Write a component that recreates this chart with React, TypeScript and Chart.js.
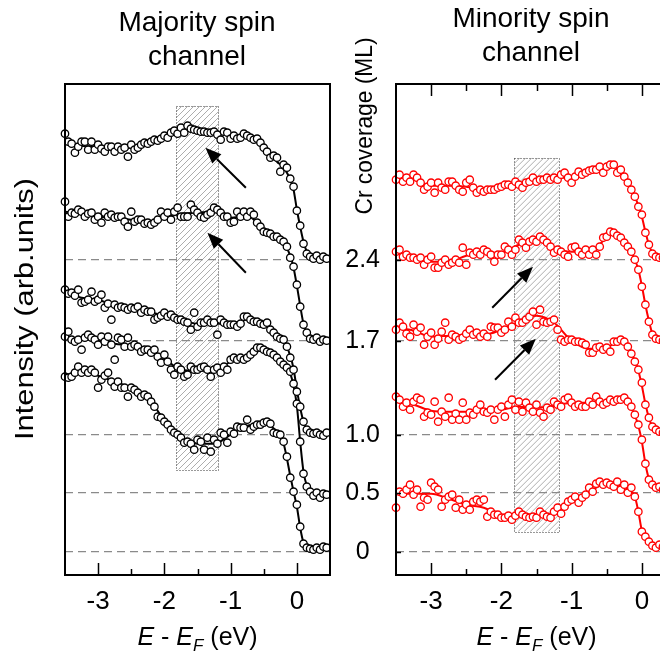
import React, { useEffect, useRef } from 'react';
import { Chart, registerables } from 'chart.js';
Chart.register(...registerables);

const FONT = '"Liberation Sans", Arial, Helvetica, sans-serif';

// energy grid of the measured points (eV, relative to E_F)
const energy = [
  -3.5, -3.45, -3.4, -3.35, -3.3, -3.25, -3.2, -3.15, -3.1, -3.05,
  -3, -2.95, -2.9, -2.85, -2.8, -2.75, -2.7, -2.65, -2.6, -2.55,
  -2.5, -2.45, -2.4, -2.35, -2.3, -2.25, -2.2, -2.15, -2.1, -2.05,
  -2, -1.95, -1.9, -1.85, -1.8, -1.75, -1.7, -1.65, -1.6, -1.55,
  -1.5, -1.45, -1.4, -1.35, -1.3, -1.25, -1.2, -1.15, -1.1, -1.05,
  -1, -0.95, -0.9, -0.85, -0.8, -0.75, -0.7, -0.65, -0.6, -0.55,
  -0.5, -0.45, -0.4, -0.35, -0.3, -0.25, -0.2, -0.15, -0.1, -0.05,
  0, 0.05, 0.1, 0.15, 0.2, 0.25, 0.3, 0.35, 0.4, 0.45,
];
// energy grid of the smooth guide lines
const fitEnergy = [-3.5, -3.25, -3, -2.75, -2.5, -2.25, -2, -1.75, -1.5, -1.25, -1, -0.75, -0.5, -0.4, -0.3, -0.2, -0.1, -0.05, 0, 0.05, 0.1, 0.15, 0.2, 0.3, 0.45];

const coverageLabels = ['0', '0.5', '1.0', '1.7', '2.4'];
const baselines = [0, 59, 117, 211, 292];
const xTicks = [-3, -2, -1, 0];
const xMinorTicks = [-2.5, -1.5, -0.5];
const yRange = [-23.3, 467.7];

// Majority spin channel (intensity, arb. units)
const maj24 = [
  418, 410, 408, 399, 405, 410, 410, 402, 410, 402,
  407, 403, 400, 405, 405, 400, 405, 402, 404, 395,
  407, 402, 404, 407, 409, 408, 410, 412, 411, 413,
  416, 414, 419, 421, 418, 424, 419, 426, 423, 422,
  421, 420, 420, 419, 419, 420, 417, 412, 420, 419,
  413, 416, 413, 414, 418, 416, 414, 412, 413, 409,
  404, 400, 394, 396, 394, 380, 387, 384, 373, 365,
  341, 326, 308, 298, 295, 293, 296, 292, 295, 293,
];
const maj17 = [
  350, 335, 339, 338, 342, 340, 335, 338, 339, 332,
  335, 329, 339, 335, 337, 334, 335, 335, 330, 325,
  340, 330, 332, 332, 328, 329, 327, 329, 332, 340,
  335, 339, 332, 340, 344, 335, 335, 335, 347, 342,
  339, 335, 334, 337, 339, 344, 342, 339, 335, 335,
  329, 330, 340, 335, 340, 335, 340, 337, 329, 325,
  320, 319, 318, 315, 315, 312, 310, 305, 294, 285,
  267, 245, 227, 219, 213, 212, 214, 210, 212, 211,
];
const maj10 = [
  262, 258, 259, 256, 262, 249, 250, 252, 260, 250,
  252, 257, 244, 248, 232, 247, 244, 245, 244, 242,
  244, 243, 245, 239, 242, 240, 240, 232, 234, 236,
  239, 235, 237, 234, 232, 232, 230, 229, 222, 239,
  225, 229, 229, 232, 229, 229, 217, 232, 229, 227,
  227, 227, 225, 228, 235, 235, 232, 230, 230, 228,
  227, 229, 222, 219, 215, 213, 212, 205, 194, 182,
  160, 145, 130, 122, 119, 118, 119, 117, 116, 119,
];
const maj05 = [
  215, 220, 212, 210, 212, 202, 214, 217, 214, 212,
  207, 215, 210, 215, 207, 192, 214, 212, 205, 214,
  205, 207, 205, 200, 202, 202, 199, 202, 195, 189,
  197, 190, 182, 177, 185, 182, 175, 177, 185, 182,
  182, 184, 185, 182, 175, 182, 184, 179, 185, 182,
  192, 194, 192, 194, 192, 194, 197, 200, 204, 204,
  202, 200, 199, 197, 194, 190, 187, 184, 180, 168,
  148, 110, 78, 65, 60, 56, 59, 54, 58, 57,
];
const maj00 = [
  175, 174, 175, 179, 185, 179, 182, 179, 182, 179,
  164, 172, 176, 179, 170, 165, 170, 164, 164, 155,
  164, 162, 159, 155, 157, 155, 150, 145, 135, 134,
  130, 127, 122, 119, 117, 114, 109, 110, 108, 102,
  112, 110, 102, 114, 100, 112, 108, 119, 117, 109,
  120, 118, 125, 124, 124, 132, 122, 125, 127, 127,
  129, 130, 128, 119, 118, 117, 110, 95, 74, 60,
  47, 25, 8, 4, 3, 2, 4, 2, 5, 4,
];
const majFit24 = [410, 406, 405, 403, 404, 408, 414, 420, 422, 419, 416, 414, 405, 398, 390, 384, 372, 362, 342, 325, 310, 300, 295, 294, 294];
const majFit17 = [340, 338, 335, 334, 332, 330, 334, 338, 339, 340, 334, 336, 322, 318, 314, 309, 296, 284, 266, 246, 228, 219, 214, 212, 211];
const majFit10 = [260, 254, 252, 246, 243, 240, 236, 232, 228, 228, 228, 232, 228, 223, 216, 211, 196, 183, 162, 144, 130, 122, 119, 118, 118];
const majFit05 = [214, 212, 211, 208, 206, 202, 193, 182, 181, 181, 190, 195, 202, 199, 194, 187, 178, 166, 146, 110, 80, 66, 60, 58, 57];
const majFit00 = [176, 180, 176, 170, 163, 155, 131, 115, 108, 108, 117, 126, 128, 126, 119, 108, 76, 60, 45, 24, 9, 4, 3, 3, 3];

// Minority spin channel (intensity, arb. units)
const min24 = [
  372, 377, 370, 374, 370, 377, 374, 369, 362, 365,
  369, 359, 369, 364, 362, 370, 370, 366, 362, 360,
  369, 372, 364, 359, 362, 360, 362, 362, 362, 364,
  365, 367, 367, 365, 370, 367, 364, 369, 370, 374,
  370, 372, 372, 374, 372, 374, 372, 377, 379, 374,
  369, 375, 380, 377, 379, 381, 382, 382, 385, 379,
  385, 387, 387, 379, 382, 375, 369, 362, 355, 345,
  337, 319, 307, 298, 295, 294, 294, 295, 293, 294,
];
const min17 = [
  300, 302, 295, 297, 294, 294, 292, 294, 287, 292,
  295, 284, 284, 289, 292, 287, 289, 292, 289, 304,
  287, 299, 297, 300, 297, 302, 300, 297, 290, 297,
  297, 305, 302, 297, 302, 312, 309, 304, 310, 312,
  310, 315, 312, 309, 305, 299, 302, 300, 297, 295,
  304, 305, 300, 297, 302, 297, 302, 297, 305, 314,
  315, 320, 319, 316, 314, 309, 305, 300, 292, 282,
  265, 247, 230, 217, 213, 212, 211, 213, 211, 212,
];
const min10 = [
  222, 229, 225, 218, 215, 227, 220, 224, 207, 215,
  219, 207, 213, 220, 229, 212, 217, 215, 212, 214,
  218, 222, 217, 219, 215, 218, 215, 225, 224, 224,
  219, 222, 230, 225, 234, 229, 229, 232, 235, 240,
  227, 242, 230, 229, 230, 232, 222, 212, 210, 212,
  212, 210, 210, 209, 207, 199, 199, 204, 205, 202,
  204, 200, 210, 210, 212, 210, 205, 198, 190, 182,
  169, 147, 134, 125, 122, 120, 119, 118, 117, 118,
];
const min05 = [
  155, 152, 145, 149, 142, 150, 154, 152, 135, 139,
  137, 150, 130, 140, 135, 154, 132, 138, 132, 149,
  132, 139, 137, 142, 147, 140, 139, 142, 132, 142,
  145, 135, 147, 152, 142, 150, 140, 149, 144, 140,
  147, 139, 135, 144, 142, 150, 147, 145, 152, 154,
  149, 145, 147, 145, 145, 150, 147, 155, 150, 147,
  149, 152, 150, 152, 152, 154, 150, 145, 137, 127,
  112, 88, 72, 67, 64, 65, 62, 60, 60, 59,
];
const min00 = [
  44, 60, 58, 62, 67, 57, 62, 45, 54, 52,
  69, 65, 62, 45, 52, 55, 57, 44, 52, 42,
  47, 42, 50, 52, 50, 52, 35, 40, 37, 37,
  34, 34, 36, 32, 36, 40, 37, 35, 34, 35,
  34, 40, 37, 35, 34, 40, 44, 38, 45, 50,
  52, 55, 49, 54, 57, 64, 60, 68, 70, 67,
  69, 67, 65, 70, 62, 67, 59, 64, 55, 40,
  20, 15, 10, 6, 4, 7, 5, 4, 5, 4,
];
const minFit24 = [374, 372, 366, 366, 365, 362, 364, 367, 371, 373, 375, 380, 385, 385, 380, 369, 355, 346, 335, 320, 307, 299, 295, 294, 294];
const minFit17 = [298, 295, 290, 290, 296, 299, 299, 307, 311, 303, 300, 300, 314, 318, 313, 305, 292, 282, 266, 247, 231, 218, 213, 211, 211];
const minFit10 = [224, 221, 215, 216, 217, 217, 222, 230, 236, 229, 211, 203, 204, 208, 209, 204, 191, 181, 166, 148, 134, 125, 121, 119, 118];
const minFit05 = [150, 147, 141, 140, 140, 141, 142, 145, 144, 146, 149, 149, 150, 151, 152, 149, 136, 126, 110, 88, 73, 67, 63, 61, 59];
const minFit00 = [58, 58, 58, 53, 47, 44, 37, 36, 36, 38, 49, 60, 68, 67, 66, 63, 55, 40, 21, 14, 9, 6, 5, 5, 5];

// shaded energy window and its vertical extent
const hatchEnergy = [-1.82, -1.18];
const hatchMajority = [82, 446];
const hatchMinority = [20, 394];

// arrows: tail energy, tail intensity, head energy, head intensity
const arrowTailE_maj = [-0.77, -0.77];
const arrowTailY_maj = [364, 279];
const arrowHeadE_maj = [-1.38, -1.35];
const arrowHeadY_maj = [404, 319];
const arrowTailE_min = [-2.13, -2.09];
const arrowTailY_min = [244, 172];
const arrowHeadE_min = [-1.55, -1.51];
const arrowHeadY_min = [285, 213];

function drawArrow(ctx: CanvasRenderingContext2D, x1: number, y1: number, x2: number, y2: number) {
  const ang = Math.atan2(y2 - y1, x2 - x1);
  const hl = 16, hw = 6.5;
  const bx = x2 - hl * Math.cos(ang), by = y2 - hl * Math.sin(ang);
  ctx.save();
  ctx.strokeStyle = '#000';
  ctx.fillStyle = '#000';
  ctx.lineWidth = 2;
  ctx.beginPath();
  ctx.moveTo(x1, y1);
  ctx.lineTo(bx, by);
  ctx.stroke();
  ctx.beginPath();
  ctx.moveTo(x2, y2);
  ctx.lineTo(bx + hw * Math.sin(ang), by - hw * Math.cos(ang));
  ctx.lineTo(bx - hw * Math.sin(ang), by + hw * Math.cos(ang));
  ctx.closePath();
  ctx.fill();
  ctx.restore();
}

function drawXTitle(ctx: CanvasRenderingContext2D, cx: number, baseY: number) {
  const parts = [
    { t: 'E', it: true, size: 25, dy: 0 },
    { t: ' - ', it: false, size: 25, dy: 0 },
    { t: 'E', it: true, size: 25, dy: 0 },
    { t: 'F', it: true, size: 17, dy: 6 },
    { t: ' (eV)', it: false, size: 25, dy: 0 },
  ];
  let total = 0;
  const widths = parts.map((p) => {
    ctx.font = `${p.it ? 'italic ' : ''}${p.size}px ${FONT}`;
    const w = ctx.measureText(p.t).width;
    total += w;
    return w;
  });
  let x = cx - total / 2;
  ctx.save();
  ctx.fillStyle = '#000';
  ctx.textBaseline = 'alphabetic';
  ctx.textAlign = 'left';
  parts.forEach((p, i) => {
    ctx.font = `${p.it ? 'italic ' : ''}${p.size}px ${FONT}`;
    ctx.fillText(p.t, x, baseY + p.dy);
    x += widths[i];
  });
  ctx.restore();
}

// vertical label, stretched along its reading direction to a given length
function drawVerticalLabel(ctx: CanvasRenderingContext2D, text: string, cx: number, cy: number, size: number, length: number) {
  ctx.save();
  ctx.font = `${size}px ${FONT}`;
  const w = ctx.measureText(text).width;
  ctx.translate(cx, cy);
  ctx.rotate(-Math.PI / 2);
  ctx.scale(length / w, 1);
  ctx.fillStyle = '#000';
  ctx.textAlign = 'center';
  ctx.textBaseline = 'middle';
  ctx.fillText(text, 0, 0);
  ctx.restore();
}

type PanelOpts = {
  series: number[][];
  fits: number[][];
  color: string;
  yLabels: boolean;
  leftWidth: number;
  rightPad: number;
  hatchY: number[];
  tailE: number[];
  tailY: number[];
  headE: number[];
  headY: number[];
  title: string[];
  titleX: number;
  titleY: number[];
  topTicks: boolean;
  sideTitle: (ctx: CanvasRenderingContext2D) => void;
};

function buildConfig(o: PanelOpts): any {
  const datasets: any[] = [];
  baselines.forEach((b) => {
    datasets.push({
      type: 'line',
      data: [{ x: -3.5, y: b }, { x: 0.5, y: b }],
      borderColor: '#8a8a8a',
      borderWidth: 1.3,
      borderDash: [8, 5],
      pointRadius: 0,
      order: 3,
    });
  });
  o.fits.forEach((f) => {
    datasets.push({
      type: 'line',
      data: fitEnergy.map((e, i) => ({ x: e, y: f[i] })),
      borderColor: o.color,
      borderWidth: 2,
      pointRadius: 0,
      cubicInterpolationMode: 'monotone',
      order: 2,
    });
  });
  o.series.forEach((s) => {
    datasets.push({
      type: 'scatter',
      data: energy.map((e, i) => ({ x: e, y: s[i] })),
      pointRadius: 3.7,
      borderWidth: 1.3,
      borderColor: o.color,
      backgroundColor: '#ffffff',
      clip: 6,
      order: 1,
    });
  });

  const decor = {
    id: 'decor',
    beforeDatasetsDraw(chart: any) {
      const ctx = chart.ctx as CanvasRenderingContext2D;
      const xs = chart.scales.x, ys = chart.scales.y;
      const x0 = xs.getPixelForValue(hatchEnergy[0]);
      const x1 = xs.getPixelForValue(hatchEnergy[1]);
      const yT = ys.getPixelForValue(o.hatchY[1]);
      const yB = ys.getPixelForValue(o.hatchY[0]);
      ctx.save();
      ctx.beginPath();
      ctx.rect(x0, yT, x1 - x0, yB - yT);
      ctx.clip();
      ctx.strokeStyle = '#adadad';
      ctx.lineWidth = 1;
      const h = yB - yT;
      for (let k = -h; k < x1 - x0 + 2; k += 6) {
        ctx.beginPath();
        ctx.moveTo(x0 + k, yB);
        ctx.lineTo(x0 + k + h, yT);
        ctx.stroke();
      }
      ctx.restore();
      ctx.save();
      ctx.strokeStyle = '#333';
      ctx.lineWidth = 1;
      ctx.setLineDash([1, 2]);
      ctx.strokeRect(Math.round(x0) + 0.5, Math.round(yT) + 0.5, Math.round(x1 - x0), Math.round(yB - yT));
      ctx.restore();
    },
    afterDatasetsDraw(chart: any) {
      const ctx = chart.ctx as CanvasRenderingContext2D;
      const xs = chart.scales.x, ys = chart.scales.y;
      const a = chart.chartArea;
      for (let i = 0; i < o.tailE.length; i++) {
        drawArrow(ctx, xs.getPixelForValue(o.tailE[i]), ys.getPixelForValue(o.tailY[i]),
          xs.getPixelForValue(o.headE[i]), ys.getPixelForValue(o.headY[i]));
      }
      ctx.save();
      ctx.strokeStyle = '#000';
      ctx.lineWidth = 2;
      ctx.strokeRect(a.left, a.top, a.right - a.left, a.bottom - a.top);
      ctx.lineWidth = 1.5;
      const tick = (v: number, len: number, top: boolean) => {
        const px = Math.round(xs.getPixelForValue(v)) + 0.5;
        ctx.beginPath();
        if (top) { ctx.moveTo(px, a.top); ctx.lineTo(px, a.top + len); }
        else { ctx.moveTo(px, a.bottom); ctx.lineTo(px, a.bottom - len); }
        ctx.stroke();
      };
      xTicks.forEach((v) => tick(v, 12, false));
      xMinorTicks.forEach((v) => tick(v, 6, false));
      if (o.topTicks) {
        xTicks.forEach((v) => tick(v, 12, true));
        xMinorTicks.forEach((v) => tick(v, 7, true));
        baselines.forEach((b) => {
          const py = Math.round(ys.getPixelForValue(b)) + 0.5;
          ctx.beginPath();
          ctx.moveTo(a.left, py);
          ctx.lineTo(a.left + 5, py);
          ctx.stroke();
        });
      }
      ctx.restore();
    },
    afterDraw(chart: any) {
      const ctx = chart.ctx as CanvasRenderingContext2D;
      const a = chart.chartArea;
      ctx.save();
      ctx.fillStyle = '#000';
      ctx.textAlign = 'center';
      ctx.textBaseline = 'alphabetic';
      ctx.font = `28px ${FONT}`;
      o.title.forEach((t, i) => ctx.fillText(t, o.titleX, o.titleY[i]));
      ctx.restore();
      drawXTitle(ctx, (a.left + a.right) / 2, 637);
      o.sideTitle(ctx);
    },
  };

  return {
    type: 'scatter',
    data: { datasets },
    plugins: [decor],
    options: {
      responsive: false,
      animation: false,
      devicePixelRatio: 1,
      events: [],
      layout: { padding: { top: 76, right: o.rightPad, left: 0, bottom: 0 } },
      plugins: { legend: { display: false }, tooltip: { enabled: false }, title: { display: false } },
      scales: {
        x: {
          type: 'linear',
          min: -3.5,
          max: 0.5,
          afterBuildTicks: (s: any) => { s.ticks = xTicks.map((v) => ({ value: v })); },
          afterFit: (s: any) => { s.height = 80; },
          grid: { display: false, drawTicks: false },
          border: { display: false },
          ticks: {
            color: '#000',
            font: { family: FONT, size: 26 },
            padding: 11,
            maxRotation: 0,
            callback: (v: any) => String(v),
          },
        },
        y: {
          type: 'linear',
          min: yRange[0],
          max: yRange[1],
          afterBuildTicks: (s: any) => { s.ticks = baselines.map((v) => ({ value: v })); },
          afterFit: (s: any) => { s.width = o.leftWidth; },
          grid: { display: false, drawTicks: false },
          border: { display: false },
          ticks: {
            display: o.yLabels,
            color: '#000',
            font: { family: FONT, size: 25 },
            padding: 16,
            crossAlign: 'center',
            callback: (_v: any, i: number) => coverageLabels[i],
          },
        },
      },
    },
  };
}

export default function App() {
  const leftRef = useRef<HTMLCanvasElement>(null);
  const rightRef = useRef<HTMLCanvasElement>(null);

  useEffect(() => {
    const left = new Chart(leftRef.current as HTMLCanvasElement, buildConfig({
      series: [maj24, maj17, maj10, maj05, maj00],
      fits: [majFit24, majFit17, majFit10, majFit05, majFit00],
      color: '#000000',
      yLabels: false,
      leftWidth: 57,
      rightPad: 23,
      hatchY: hatchMajority,
      tailE: arrowTailE_maj,
      tailY: arrowTailY_maj,
      headE: arrowHeadE_maj,
      headY: arrowHeadY_maj,
      title: ['Majority spin', 'channel'],
      titleX: 189,
      titleY: [23, 57],
      topTicks: false,
      sideTitle: (ctx) => drawVerticalLabel(ctx, 'Intensity (arb.units)', 18, 301, 25, 262),
    }));
    const right = new Chart(rightRef.current as HTMLCanvasElement, buildConfig({
      series: [min24, min17, min10, min05, min00],
      fits: [minFit24, minFit17, minFit10, minFit05, minFit00],
      color: '#ff0000',
      yLabels: true,
      leftWidth: 56,
      rightPad: 8,
      hatchY: hatchMinority,
      tailE: arrowTailE_min,
      tailY: arrowTailY_min,
      headE: arrowHeadE_min,
      headY: arrowHeadY_min,
      title: ['Minority spin', 'channel'],
      titleX: 191,
      titleY: [19, 53],
      topTicks: true,
      sideTitle: (ctx) => drawVerticalLabel(ctx, 'Cr coverage (ML)', 25, 118, 24, 177),
    }));
    return () => {
      left.destroy();
      right.destroy();
    };
  }, []);

  return (
    <div style={{ position: 'relative', width: 660, height: 647, overflow: 'hidden', background: '#fff' }}>
      <canvas ref={leftRef} width={345} height={647} style={{ position: 'absolute', left: 0, top: 0 }} />
      <canvas ref={rightRef} width={345} height={647} style={{ position: 'absolute', left: 332, top: 0 }} />
    </div>
  );
}
